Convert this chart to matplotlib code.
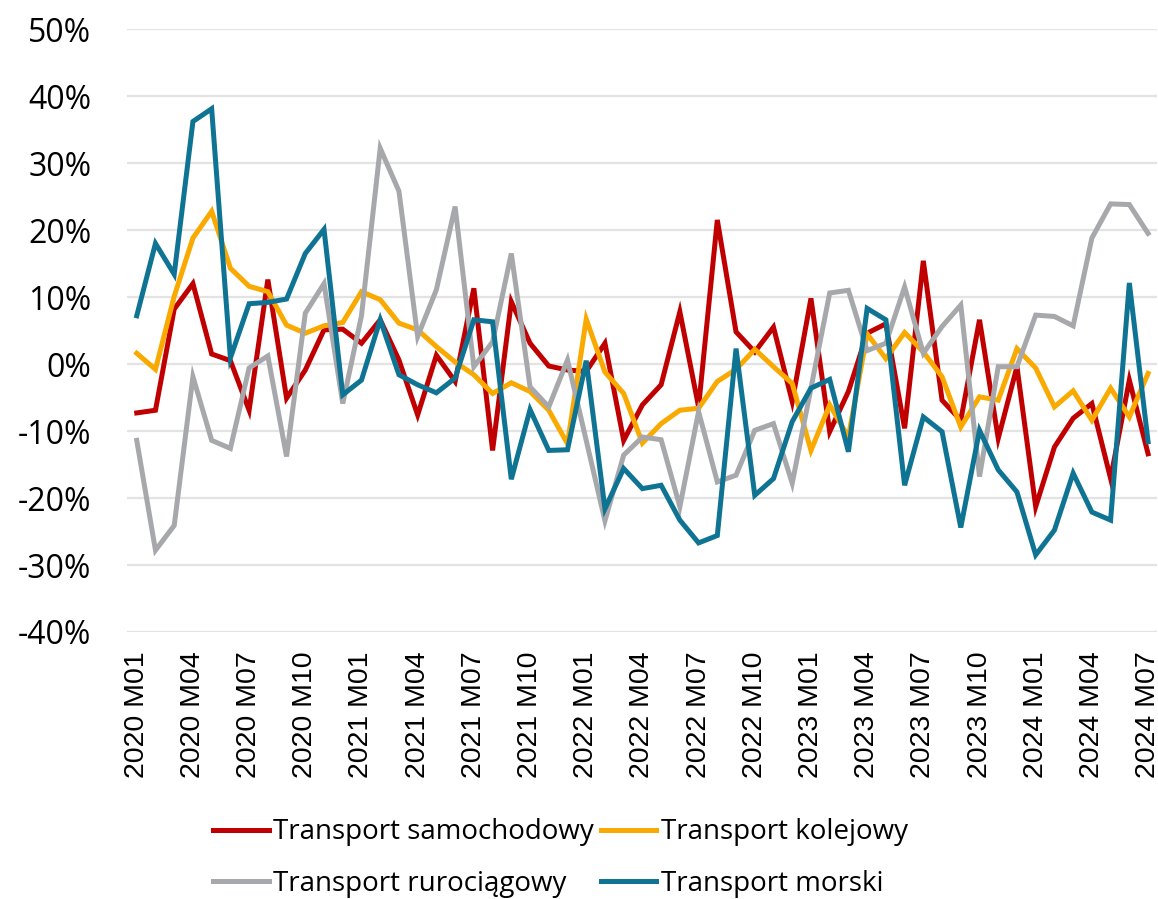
import numpy as np
import matplotlib
matplotlib.use("Agg")
import matplotlib.pyplot as plt
from matplotlib.ticker import FuncFormatter

# monthly y/y change, %, 2020 M01 .. 2024 M07
months = [f"{y} M{m:02d}" for y in range(2020, 2025) for m in range(1, 13)][:55]

samochodowy = [-7.3, -6.9, 8.2, 12.0, 1.5, 0.5, -6.9, 12.6, -5.1, -0.9, 5.1, 5.2, 3.1,
               6.6, 0.6, -7.6, 1.3, -2.6, 11.3, -12.9, 9.3, 3.1, -0.3, -0.9, -1.1, 3.1,
               -11.4, -6.1, -3.1, 7.8, -6.4, 21.5, 4.8, 1.8, 5.5, -5.6, 9.8, -10.1, -4.1,
               4.6, 6.0, -9.6, 15.4, -5.4, -8.4, 6.6, -11.1, -0.4, -21.3, -12.4, -8.1,
               -5.9, -17.1, -2.4, -13.4]
kolejowy = [1.6, -0.8, 10.1, 18.8, 22.8, 14.3, 11.6, 10.8, 5.8, 4.6, 5.7, 6.2, 10.8,
            9.6, 6.1, 5.1, 2.6, 0.3, -1.6, -4.4, -2.8, -4.1, -6.9, -11.9, 6.7, -1.2,
            -4.4, -11.8, -8.9, -6.9, -6.6, -2.6, -0.8, 2.2, -0.4, -2.9, -12.9, -6.1,
            -10.9, 4.5, 0.8, 4.7, 1.8, -1.9, -9.4, -4.9, -5.4, 2.3, -0.6, -6.4, -4.0,
            -8.4, -3.6, -7.9, -1.4]
rurociagowy = [-11.4, -27.8, -24.1, -1.9, -11.4, -12.6, -0.6, 1.2, -13.8, 7.6, 12.0,
               -5.9, 7.2, 32.2, 25.8, 4.1, 11.1, 23.5, -0.4, 3.3, 16.5, -3.4, -6.4, 0.6,
               -11.4, -23.4, -13.6, -10.9, -11.3, -21.3, -7.1, -17.6, -16.6, -9.9, -8.9,
               -17.8, -3.6, 10.6, 11.0, 2.0, 3.1, 11.5, 1.6, 5.6, 8.8, -16.8, -0.4, -0.4,
               7.3, 7.1, 5.7, 18.8, 23.9, 23.8, 19.5]
morski = [7.2, 18.0, 13.4, 36.2, 38.1, 0.9, 9.0, 9.2, 9.7, 16.5, 20.1, -4.6, -2.4,
          6.6, -1.6, -3.1, -4.3, -2.1, 6.6, 6.3, -17.2, -6.8, -12.9, -12.8, 0.5, -21.6,
          -15.6, -18.6, -18.1, -23.3, -26.7, -25.6, 2.3, -19.6, -17.1, -8.6, -3.6, -2.3,
          -13.1, 8.3, 6.6, -18.1, -7.9, -10.1, -24.4, -9.9, -15.8, -19.1, -28.5, -24.8,
          -16.3, -22.1, -23.3, 12.1, -11.6]

series = [
    ("Transport samochodowy", samochodowy, "#C00000"),
    ("Transport kolejowy", kolejowy, "#FAA900"),
    ("Transport rurociągowy", rurociagowy, "#A6A8AB"),
    ("Transport morski", morski, "#0F7493"),
]

fig = plt.figure(figsize=(11.58, 8.99), dpi=100)
ax = fig.add_axes([0.110, 0.297, 0.8895, 0.6707])

x = np.arange(len(months))
lines = {}
for name, vals, col in series:
    lines[name], = ax.plot(x, vals, color=col, lw=3.6, label=name,
                           solid_joinstyle="miter", zorder=3)

ax.set_xlim(-0.5, len(months) - 0.5)
ax.set_ylim(-40, 50)
ax.set_yticks(np.arange(-40, 51, 10))
ax.yaxis.set_major_formatter(FuncFormatter(lambda v, p: f"{v:.0f}%"))
ax.grid(axis="y", color="#E3E3E3", lw=1.6, zorder=0)
for s in ax.spines.values():
    s.set_visible(False)

ax.set_xticks(x[::3])
ax.set_xticklabels(months[::3], rotation=90, fontsize=20.5,
                   family="Liberation Sans")
ax.tick_params(axis="x", length=0, pad=14)
ax.tick_params(axis="y", length=0, pad=26, labelsize=23)
for t in ax.get_yticklabels():
    t.set_family("Open Sans")

order = ["Transport samochodowy", "Transport rurociągowy",
         "Transport kolejowy", "Transport morski"]
fig.legend([lines[n] for n in order], order, ncol=2, loc="center",
           bbox_to_anchor=(0.484, 0.0455), frameon=False,
           prop={"family": "Open Sans", "size": 20},
           handlelength=2.0, handletextpad=0.15, columnspacing=0.25,
           labelspacing=0.85, borderpad=0)

fig.savefig("out.png", dpi=100)
